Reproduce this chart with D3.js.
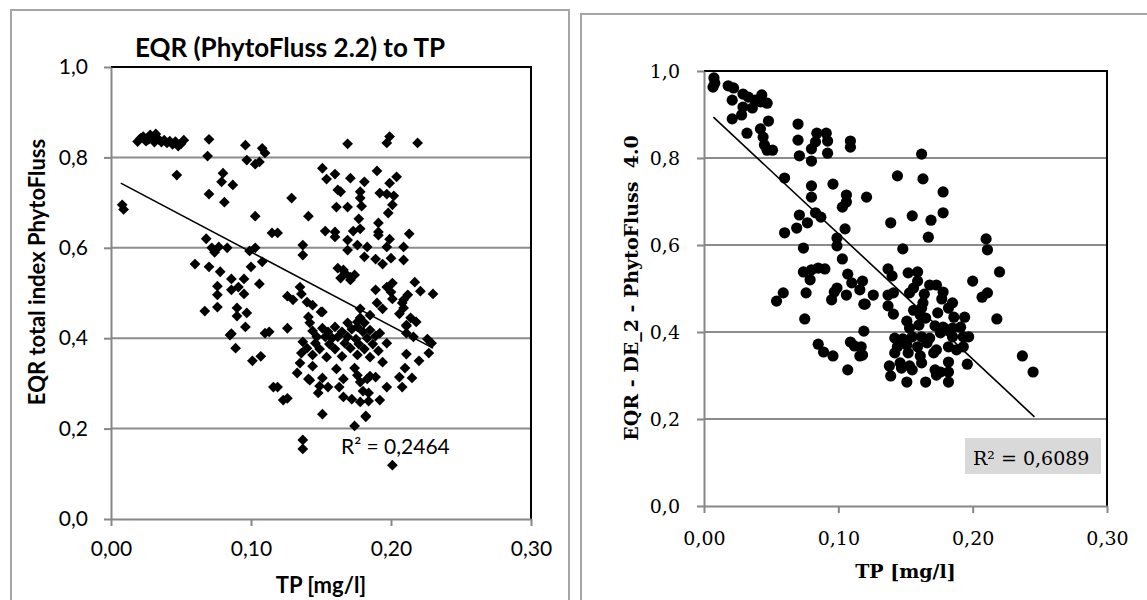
<!DOCTYPE html>
<meta charset="utf-8">
<script src="https://d3js.org/d3.v7.min.js"></script>
<style>
  body { margin: 0; background: #fff; }
</style>
<div id="chart"></div>
<script>
// axis ticks shared by both panels
var xTicks = [0, 0.1, 0.2, 0.3];
var yTicks = [0, 0.2, 0.4, 0.6, 0.8, 1.0];

// left panel: TP [mg/l] vs EQR PhytoFluss 2.2
var leftPoints = [
  [0.019,0.835],[0.021,0.842],[0.023,0.846],[0.025,0.836],[0.027,0.84],[0.028,0.85],[0.030,0.845],[0.031,0.834],
  [0.032,0.852],[0.034,0.84],[0.036,0.834],[0.038,0.838],[0.040,0.832],[0.042,0.836],[0.044,0.829],[0.046,0.835],
  [0.048,0.825],[0.050,0.83],[0.052,0.838],[0.008,0.695],[0.009,0.685],
  [0.047,0.761],[0.070,0.84],[0.069,0.803],[0.080,0.765],[0.079,0.746],[0.087,0.739],[0.070,0.719],[0.081,0.701],
  [0.096,0.827],[0.097,0.794],[0.103,0.785],[0.106,0.79],[0.108,0.82],[0.110,0.81],
  [0.103,0.67],[0.115,0.633],[0.129,0.71],[0.141,0.67],[0.137,0.606],[0.137,0.584],[0.169,0.83],
  [0.068,0.62],[0.072,0.60],[0.074,0.59],[0.077,0.602],[0.083,0.60],[0.099,0.593],[0.103,0.60],[0.108,0.569],
  [0.100,0.558],[0.060,0.564],[0.070,0.558],[0.078,0.547],
  [0.086,0.531],[0.095,0.531],[0.076,0.515],[0.086,0.507],[0.091,0.513],[0.095,0.498],[0.106,0.52],[0.076,0.496],
  [0.067,0.46],[0.076,0.469],[0.090,0.467],[0.090,0.449],[0.097,0.456],[0.096,0.425],[0.086,0.41],[0.089,0.378],
  [0.110,0.411],[0.113,0.414],[0.107,0.36],[0.101,0.35],[0.116,0.292],[0.119,0.292],
  [0.085,0.407],[0.126,0.422],[0.123,0.263],[0.126,0.267],[0.137,0.175],[0.137,0.155],[0.151,0.232],[0.174,0.206],
  [0.182,0.228],[0.142,0.307],[0.151,0.458],
  [0.199,0.846],[0.197,0.832],[0.219,0.832],
  [0.151,0.776],[0.160,0.763],[0.154,0.752],[0.171,0.754],[0.181,0.746],[0.190,0.77],[0.204,0.757],[0.199,0.743],
  [0.162,0.728],[0.164,0.724],[0.178,0.724],[0.178,0.71],[0.192,0.721],[0.197,0.719],[0.202,0.715],[0.201,0.695],
  [0.161,0.69],[0.169,0.69],[0.179,0.692],
  [0.177,0.664],[0.198,0.677],[0.191,0.655],[0.119,0.633],[0.153,0.637],[0.160,0.635],[0.160,0.624],[0.173,0.637],
  [0.178,0.642],[0.191,0.635],[0.191,0.628],[0.199,0.619],[0.213,0.631],
  [0.169,0.617],[0.176,0.606],[0.183,0.602],[0.197,0.602],[0.209,0.602],[0.169,0.595],[0.181,0.58],[0.189,0.575],
  [0.194,0.564],[0.200,0.577],[0.209,0.573],
  [0.166,0.551],[0.167,0.544],[0.164,0.533],[0.174,0.54],[0.171,0.529],[0.201,0.522],[0.217,0.524],[0.135,0.513],
  [0.189,0.507],[0.200,0.502],[0.221,0.504],[0.230,0.498],
  [0.126,0.493],[0.130,0.485],[0.136,0.498],[0.212,0.496],[0.201,0.487],[0.140,0.48],[0.144,0.473],[0.190,0.478],
  [0.208,0.478],[0.209,0.467],[0.194,0.465],[0.178,0.465],[0.150,0.458],[0.206,0.454],[0.214,0.445],[0.141,0.447],
  [0.178,0.445],[0.185,0.451],[0.142,0.434],[0.169,0.434],[0.176,0.436],[0.181,0.434],[0.211,0.429],
  [0.144,0.416],[0.151,0.422],[0.155,0.414],[0.160,0.425],[0.165,0.414],[0.172,0.42],[0.176,0.425],[0.180,0.414],
  [0.185,0.418],[0.192,0.411],[0.211,0.411],[0.216,0.403],[0.226,0.398],
  [0.147,0.403],[0.153,0.403],[0.158,0.40],[0.162,0.403],[0.169,0.403],[0.175,0.398],[0.183,0.40],[0.189,0.405],
  [0.137,0.392],[0.146,0.389],[0.156,0.387],[0.167,0.389],[0.177,0.387],[0.187,0.387],[0.197,0.389],
  [0.140,0.378],[0.149,0.376],[0.160,0.376],[0.171,0.378],[0.181,0.376],[0.191,0.372],[0.227,0.367],[0.211,0.365],
  [0.136,0.367],[0.144,0.363],[0.154,0.358],[0.165,0.36],[0.176,0.363],[0.185,0.358],[0.194,0.347],[0.220,0.35],
  [0.135,0.345],[0.144,0.338],[0.161,0.332],[0.174,0.334],[0.133,0.323],[0.210,0.334],
  [0.141,0.31],[0.151,0.312],[0.166,0.31],[0.176,0.318],[0.185,0.316],[0.189,0.314],[0.206,0.314],[0.215,0.312],
  [0.178,0.303],[0.183,0.31],
  [0.149,0.294],[0.155,0.292],[0.163,0.292],[0.197,0.292],[0.208,0.292],
  [0.148,0.279],[0.180,0.283],[0.184,0.279],[0.166,0.27],[0.172,0.265],[0.178,0.259],[0.184,0.261],[0.192,0.263],
  [0.182,0.226],[0.201,0.119],
  [0.162,0.555],[0.197,0.513],[0.209,0.485],[0.171,0.535],[0.218,0.436],[0.211,0.427],[0.229,0.389]
];
var leftTrend = [[0.007, 0.743], [0.23, 0.378]];
var leftR2 = "0,2464";

// right panel: TP [mg/l] vs EQR DE_2 PhytoFluss 4.0
var rightPoints = [
  [0.0074,0.984],[0.0067,0.963],[0.008,0.972],[0.018,0.966],[0.022,0.961],[0.021,0.933],[0.029,0.947],[0.033,0.94],
  [0.038,0.933],[0.043,0.945],[0.042,0.929],[0.047,0.926],[0.036,0.915],[0.029,0.917],[0.028,0.899],[0.021,0.89],
  [0.048,0.885],[0.032,0.857],[0.042,0.867],[0.044,0.848],[0.045,0.83],[0.047,0.818],[0.051,0.818],
  [0.070,0.878],[0.070,0.841],[0.084,0.857],[0.091,0.857],[0.092,0.839],[0.083,0.837],[0.080,0.821],[0.071,0.805],
  [0.080,0.793],[0.092,0.811],[0.109,0.839],[0.109,0.825],
  [0.060,0.754],[0.080,0.736],[0.080,0.71],[0.096,0.74],[0.106,0.715],[0.106,0.699],[0.103,0.687],[0.121,0.71],
  [0.071,0.669],[0.077,0.651],[0.083,0.674],[0.087,0.664],[0.069,0.639],[0.060,0.628],[0.105,0.637],[0.099,0.616],
  [0.099,0.598],[0.074,0.593],[0.103,0.568],
  [0.074,0.538],[0.080,0.543],[0.085,0.547],[0.090,0.545],[0.079,0.52],[0.107,0.533],[0.110,0.513],[0.118,0.517],
  [0.116,0.497],[0.119,0.464],[0.099,0.501],[0.097,0.492],[0.095,0.474],[0.106,0.485],[0.076,0.49],[0.059,0.49],
  [0.054,0.471],[0.075,0.43],[0.119,0.402],
  [0.085,0.372],[0.089,0.354],[0.096,0.345],[0.109,0.377],[0.112,0.368],[0.116,0.345],[0.107,0.313],
  [0.162,0.809],[0.144,0.759],[0.163,0.752],[0.178,0.722],[0.139,0.651],[0.155,0.667],[0.169,0.657],[0.178,0.674],
  [0.167,0.618],[0.148,0.591],[0.210,0.614],[0.211,0.589],[0.220,0.538],[0.200,0.517],[0.207,0.48],[0.211,0.49],
  [0.218,0.43],[0.237,0.345],[0.245,0.308],
  [0.137,0.545],[0.140,0.529],[0.152,0.536],[0.159,0.538],[0.159,0.517],[0.156,0.501],[0.153,0.49],[0.168,0.508],
  [0.173,0.508],[0.178,0.492],[0.177,0.476],[0.185,0.467],[0.164,0.487],[0.163,0.467],[0.137,0.485],[0.141,0.49],
  [0.126,0.485],[0.120,0.464],[0.137,0.46],[0.141,0.441],[0.156,0.45],[0.161,0.439],[0.174,0.444],[0.182,0.455],
  [0.186,0.434],[0.194,0.434],[0.151,0.425],[0.165,0.432],[0.153,0.409],[0.160,0.416],[0.172,0.414],[0.178,0.411],
  [0.185,0.409],[0.191,0.411],[0.162,0.455],
  [0.142,0.386],[0.148,0.384],[0.155,0.389],[0.162,0.389],[0.168,0.386],[0.176,0.398],[0.181,0.404],[0.185,0.389],
  [0.193,0.389],[0.197,0.389],
  [0.144,0.366],[0.151,0.37],[0.159,0.366],[0.166,0.375],[0.173,0.359],[0.182,0.366],[0.188,0.359],[0.193,0.366],
  [0.142,0.352],[0.152,0.352],[0.161,0.345],[0.171,0.352],[0.118,0.347],[0.117,0.366],
  [0.146,0.329],[0.153,0.322],[0.162,0.329],[0.182,0.331],[0.196,0.326],[0.138,0.322],[0.147,0.317],[0.155,0.313],
  [0.172,0.313],[0.176,0.308],[0.182,0.308],[0.139,0.299],[0.173,0.301],[0.151,0.285],[0.165,0.285],[0.182,0.285]
];
var rightTrend = [[0.007, 0.894], [0.246, 0.205]];
var rightR2 = "0,6089";

var width = 1147, height = 600;

var svg = d3.select("#chart")
  .append("svg")
    .attr("width", width)
    .attr("height", height);

var fmtX = function(d) { return d3.format(".2f")(d).replace(".", ","); };
var fmtY = function(d) { return d3.format(".1f")(d).replace(".", ","); };

function drawPanel(o) {
  // outer chart border
  svg.append("rect")
    .attr("x", o.box[0]).attr("y", o.box[1])
    .attr("width", o.box[2]).attr("height", o.box[3])
    .attr("fill", "none")
    .attr("stroke", "#a6a6a6")
    .attr("stroke-width", 2);

  var x = d3.scaleLinear().domain([0, 0.3]).range([o.x0, o.x1]);
  var y = d3.scaleLinear().domain([0, 1]).range([o.y1, o.y0]);

  var g = svg.append("g");

  // gridlines
  g.selectAll(".grid")
    .data(yTicks.filter(function(d) { return d > 0 && d < 1; }))
    .enter()
    .append("line")
      .attr("x1", o.x0).attr("x2", o.x1)
      .attr("y1", function(d) { return y(d); })
      .attr("y2", function(d) { return y(d); })
      .attr("stroke", "#8c8c8c")
      .attr("stroke-width", 2);

  // top and right frame of plot area
  g.append("path")
    .attr("d", "M" + o.x0 + "," + y(1) + "H" + x(0.3) + "V" + y(0))
    .attr("fill", "none")
    .attr("stroke", "#000")
    .attr("stroke-width", 2);

  // axes
  var yAxis = g.append("g")
    .attr("transform", "translate(" + o.x0 + ",0)")
    .call(d3.axisLeft(y).tickValues(yTicks).tickFormat(fmtY).tickSize(7).tickSizeOuter(0).tickPadding(o.yPad));
  var xAxis = g.append("g")
    .attr("transform", "translate(0," + o.y1 + ")")
    .call(d3.axisBottom(x).tickValues(xTicks).tickFormat(fmtX).tickSize(7).tickSizeOuter(0));

  [yAxis, xAxis].forEach(function(a) {
    a.select(".domain").attr("stroke", "#878787").attr("stroke-width", 2);
    a.selectAll(".tick line").attr("stroke", "#878787").attr("stroke-width", 2);
    a.selectAll("text")
      .attr("fill", "#000")
      .style("font-family", o.font)
      .style("font-size", o.tickSize + "px");
  });
  xAxis.selectAll("text").attr("dy", 0).attr("y", o.xLabY);

  // points
  if (o.shape === "diamond") {
    g.append("g").selectAll("path")
      .data(o.points)
      .enter()
      .append("path")
        .attr("d", d3.symbol().type(d3.symbolSquare).size(58))
        .attr("transform", function(d) { return "translate(" + x(d[0]) + "," + y(d[1]) + ") rotate(45)"; })
        .attr("fill", "#000");
  } else {
    g.append("g").selectAll("circle")
      .data(o.points)
      .enter()
      .append("circle")
        .attr("cx", function(d) { return x(d[0]); })
        .attr("cy", function(d) { return y(d[1]); })
        .attr("r", 5.6)
        .attr("fill", "#000");
  }

  // trend line
  g.append("path")
    .datum(o.trend)
    .attr("fill", "none")
    .attr("stroke", "#000")
    .attr("stroke-width", 1.6)
    .attr("d", d3.line()
      .x(function(d) { return x(d[0]); })
      .y(function(d) { return y(d[1]); }));

  // R squared label
  if (o.r2Box) {
    g.append("rect")
      .attr("x", o.r2Box[0]).attr("y", o.r2Box[1])
      .attr("width", o.r2Box[2]).attr("height", o.r2Box[3])
      .attr("fill", "#d9d9d9");
  }
  g.append("text")
    .attr("x", o.r2Pos[0]).attr("y", o.r2Pos[1])
    .style("font-family", o.font)
    .style("font-size", o.r2Size + "px")
    .text("R² = " + o.r2);

  // axis titles
  g.append("text")
    .attr("text-anchor", "middle")
    .attr("x", (o.x0 + o.x1) / 2)
    .attr("y", o.xTitleY)
    .style("font-family", o.font)
    .style("font-weight", "bold")
    .style("font-size", o.labelSize + "px")
    .text("TP [mg/l]");
  g.append("text")
    .attr("text-anchor", "middle")
    .attr("transform", "translate(" + o.yTitle[0] + "," + o.yTitle[1] + ") rotate(-90)")
    .style("font-family", o.font)
    .style("font-weight", "bold")
    .style("font-size", o.labelSize + "px")
    .style("white-space", "pre")
    .text(o.yLabel);

  if (o.title) {
    g.append("text")
      .attr("text-anchor", "middle")
      .attr("x", o.titlePos[0]).attr("y", o.titlePos[1])
      .style("font-family", o.font)
      .style("font-weight", "bold")
      .style("font-size", o.titleSize + "px")
      .text(o.title);
  }
}

drawPanel({
  box: [11, 10, 558, 610],
  x0: 111, x1: 531, y0: 67, y1: 519,
  font: "Lato, 'Open Sans', sans-serif",
  tickSize: 21, yPad: 16, xLabY: 37,
  points: leftPoints, shape: "diamond", trend: leftTrend,
  r2: leftR2, r2Pos: [341, 454], r2Size: 21,
  labelSize: 22, xTitleY: 593, yTitle: [45, 272],
  yLabel: "EQR total index PhytoFluss",
  title: "EQR (PhytoFluss 2.2) to TP", titlePos: [290, 57], titleSize: 26
});

drawPanel({
  box: [581, 14, 620, 610],
  x0: 704, x1: 1107, y0: 71, y1: 506,
  font: "'DejaVu Serif', serif",
  tickSize: 19, yPad: 17, xLabY: 39,
  points: rightPoints, shape: "circle", trend: rightTrend,
  r2: rightR2, r2Pos: [973, 465], r2Size: 19, r2Box: [965, 438, 136, 36],
  labelSize: 19, xTitleY: 578, yTitle: [638, 288],
  yLabel: "EQR - DE_2 - PhytoFluss  4.0"
});
</script>
